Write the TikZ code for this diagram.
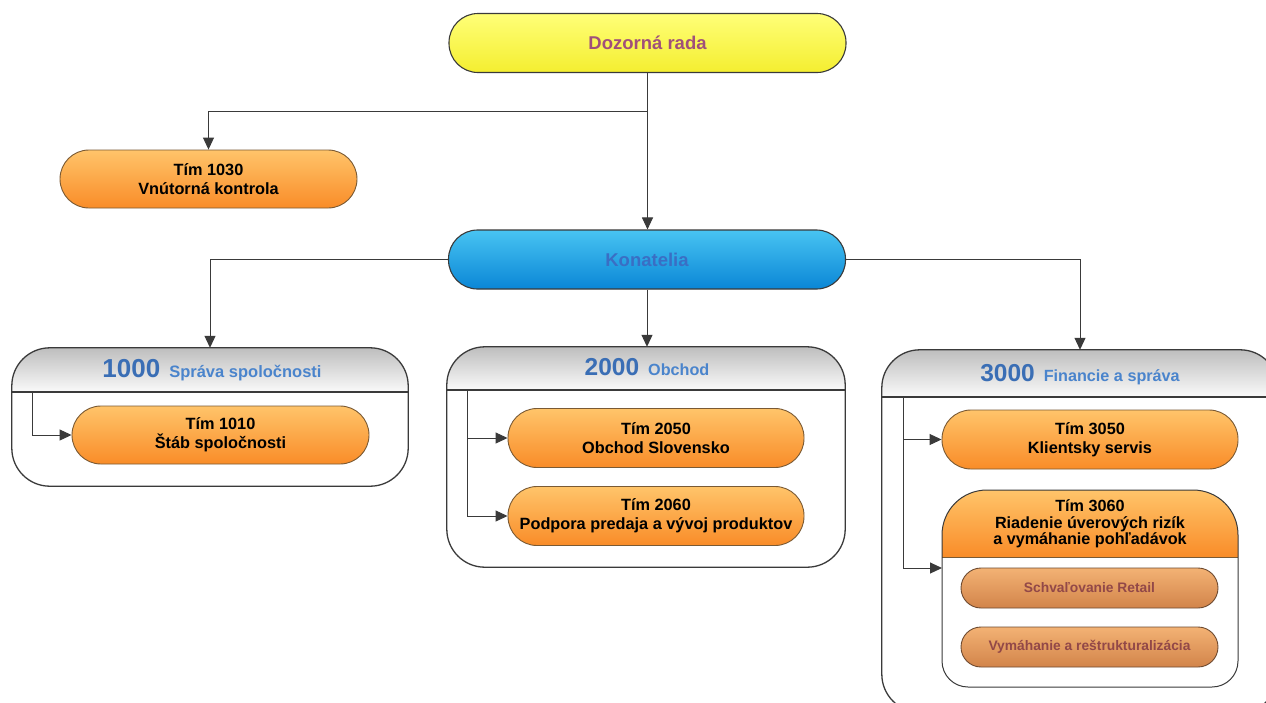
\documentclass[tikz,border=0pt]{standalone}
\usepackage{fontspec}
\setmainfont{Liberation Sans}
\usetikzlibrary{arrows.meta,calc}
\definecolor{linecol}{HTML}{3A3A3A}
\definecolor{oline}{HTML}{7A5A34}
\definecolor{orTop}{HTML}{FFC46A}
\definecolor{orBot}{HTML}{F98C28}
\definecolor{sline}{HTML}{6E4A30}
\definecolor{sTop}{HTML}{F3B274}
\definecolor{sBot}{HTML}{D2844A}
\definecolor{sText}{HTML}{924848}
\definecolor{hdrTop}{HTML}{BEBEBE}
\definecolor{hdrBot}{HTML}{FAFAFA}
\definecolor{titleNum}{HTML}{3A6EB5}
\definecolor{titleTxt}{HTML}{4A84CC}
\definecolor{dozTop}{HTML}{FFFF78}
\definecolor{dozBot}{HTML}{F4EE30}
\definecolor{dozText}{HTML}{A0507A}
\definecolor{konTop}{HTML}{48C4F2}
\definecolor{konBot}{HTML}{0A86D6}
\definecolor{konText}{HTML}{3A6EC4}
\begin{document}
\begin{tikzpicture}[x=1pt,y=-1pt,
  conn/.style={draw=linecol, line width=1pt},
  arr/.style={conn, -{Triangle[length=12pt,width=11pt]}},
  pill/.style={draw=linecol, line width=1.1pt, rounded corners=29pt, inner sep=0pt, minimum width=397pt, minimum height=59pt, font=\bfseries\fontsize{18.5}{20}\selectfont},
  obox/.style={draw=oline, line width=0.9pt, rounded corners=29pt, top color=orTop, bottom color=orBot, minimum width=297pt, minimum height=58pt, inner sep=0pt, align=center, font=\bfseries\fontsize{16.3}{19}\selectfont},
  sbox/.style={draw=sline, line width=0.9pt, rounded corners=20pt, top color=sTop, bottom color=sBot, minimum width=257pt, minimum height=40pt, inner sep=0pt, text=sText, font=\bfseries\fontsize{13.8}{15}\selectfont},
  grp/.style={draw=none, rounded corners=38pt, fill=white, inner sep=0pt},
  grpline/.style={draw=linecol, line width=1.3pt},
  hdr/.style={top color=hdrTop, bottom color=hdrBot},
  gtitle/.style={anchor=base, inner sep=0pt, font=\bfseries}
]
\useasboundingbox (0,0) rectangle (1266,702);
\fill[white] (0,0) rectangle (1266,702);
\clip (0,0) rectangle (1266,702);

% top level
\node[pill, top color=dozTop, bottom color=dozBot, text=dozText] (doz) at (647.5,43) {Dozorná rada};
\node[obox] (t1030) at (208.5,179) {Tím 1030\\Vnútorná kontrola};
\node[pill, top color=konTop, bottom color=konBot, text=konText] (kon) at (647,259.5) {Konatelia};
\coordinate (br) at (0,111);

% groups
\node[grp, minimum width=396pt, minimum height=138pt] (g1000) at (210,417) {};
\node[grp, minimum width=398pt, minimum height=220pt] (g2000) at (646,457) {};
\node[grp, minimum width=396pt, minimum height=362pt] (g3000) at (1080,531) {};
\coordinate (d1) at (0,392);
\coordinate (d2) at (0,390);
\coordinate (d3) at (0,397);
\begin{scope}
  \clip[rounded corners=38pt] (g1000.north west) rectangle (g1000.south east);
  \shade[hdr] (g1000.north west) rectangle (g1000.east |- d1);
\end{scope}
\begin{scope}
  \clip[rounded corners=38pt] (g2000.north west) rectangle (g2000.south east);
  \shade[hdr] (g2000.north west) rectangle (g2000.east |- d2);
\end{scope}
\begin{scope}
  \clip[rounded corners=38pt] (g3000.north west) rectangle (g3000.south east);
  \shade[hdr] (g3000.north west) rectangle (g3000.east |- d3);
\end{scope}
\draw[grpline, rounded corners=38pt] (g1000.north west) rectangle (g1000.south east);
\draw[grpline, rounded corners=38pt] (g2000.north west) rectangle (g2000.south east);
\draw[grpline, rounded corners=38pt] (g3000.north west) rectangle (g3000.south east);
\draw[grpline] (g1000.west |- d1) -- (g1000.east |- d1);
\draw[grpline] (g2000.west |- d2) -- (g2000.east |- d2);
\draw[grpline] (g3000.west |- d3) -- (g3000.east |- d3);

\node[gtitle] (g1000t) at (212,377) {\textcolor{titleNum}{\fontsize{26}{26}\selectfont 1000}\hspace{9pt}\textcolor{titleTxt}{\fontsize{16.5}{16}\selectfont Správa spoločnosti}};
\node[gtitle] (g2000t) at (647,375) {\textcolor{titleNum}{\fontsize{24.5}{24}\selectfont 2000}\hspace{9pt}\textcolor{titleTxt}{\fontsize{16.2}{16}\selectfont Obchod}};
\node[gtitle] (g3000t) at (1080,381) {\textcolor{titleNum}{\fontsize{24.5}{24}\selectfont 3000}\hspace{9pt}\textcolor{titleTxt}{\fontsize{16.2}{16}\selectfont Financie a správa}};

% inner boxes
\node[obox] (t1010) at (220.5,435) {Tím 1010\\Štáb spoločnosti};
\node[obox, minimum width=296pt, minimum height=59pt] (t2050) at (656,438) {Tím 2050\\Obchod Slovensko};
\node[obox, minimum width=296pt, minimum height=59pt] (t2060) at (656,516) {Tím 2060\\Podpora predaja a vývoj produktov};
\node[obox, minimum width=296pt, minimum height=59pt] (t3050) at (1090,439.5) {Tím 3050\\Klientsky servis};

% composite Tim 3060
\path[top color=orTop, bottom color=orBot] (942,557) -- (942,535) .. controls (942,510) and (962,490) .. (987,490) -- (1193,490) .. controls (1218,490) and (1238,510) .. (1238,535) -- (1238,557) -- cycle;
\draw[oline, line width=0.9pt] (942,557) -- (1238,557);
\draw[linecol, line width=1pt] (942,535) .. controls (942,510) and (962,490) .. (987,490) -- (1193,490) .. controls (1218,490) and (1238,510) .. (1238,535) -- (1238,661) .. controls (1238,675.4) and (1226.4,687) .. (1212,687) -- (968,687) .. controls (953.6,687) and (942,675.4) .. (942,661) -- cycle;
\node[inner sep=0pt, minimum width=296pt, minimum height=197pt] (t3060) at (1090,588.5) {};
\node[align=center, inner sep=0pt, font=\bfseries\fontsize{16.2}{16.5}\selectfont] (t3060l) at (1090,524) {Tím 3060\\Riadenie úverových rizík\\a vymáhanie pohľadávok};
\node[sbox] (s1) at (1089.5,588) {Schvaľovanie Retail};
\node[sbox] (s2) at (1089.5,647) {Vymáhanie a reštrukturalizácia};

% connectors top
\draw[arr] (doz.south) -- (doz.south |- kon.north);
\draw[arr] (doz.south |- br) -| (t1030.north);
\draw[arr] (kon.west) -| (g1000.north);
\draw[arr] (kon.south) -- (kon.south |- g2000.north);
\draw[arr] (kon.east) -| (g3000.north);

% inner spines
\coordinate (sp1) at (32,392);
\draw[arr] (sp1) |- (t1010.west);
\coordinate (sp2) at (467,390);
\draw[arr] (sp2) |- (t2050.west);
\draw[arr] (sp2) |- (t2060.west);
\coordinate (sp3) at (903,397);
\coordinate (t3060in) at (942,568);
\draw[arr] (sp3) |- (t3050.west);
\draw[arr] (sp3) |- (t3060in);
\end{tikzpicture}
\end{document}
